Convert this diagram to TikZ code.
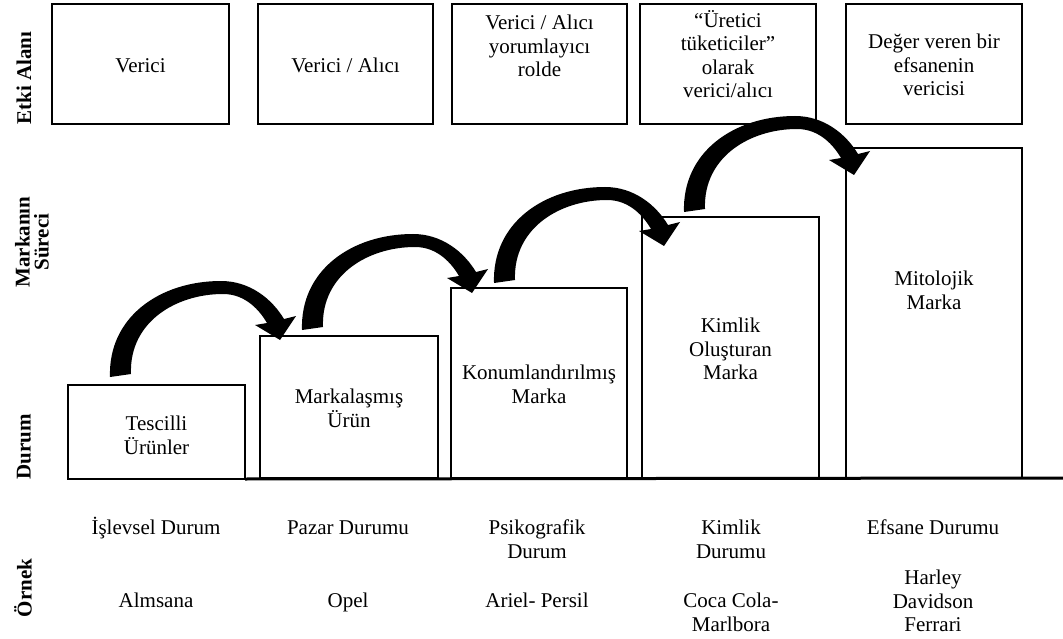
\documentclass[tikz,border=0pt]{standalone}
\usepackage{fontspec}
\setmainfont{Liberation Serif}
\usetikzlibrary{calc}
% fixed line strut so accented capitals do not shift the lines
\newcommand\linestrut{\rule[-6pt]{0pt}{26pt}}
\begin{document}
\begin{tikzpicture}[x=1pt,y=-1pt,
  box/.style={draw,line width=1.6pt,inner sep=0pt,outer sep=0pt},
  txt/.style={align=center,inner sep=0pt,font=\fontsize{21}{23.5}\selectfont,
    execute at begin node=\linestrut,execute at end node=\linestrut},
  side/.style={align=center,inner sep=0pt,rotate=90,font=\fontsize{21}{19}\selectfont\bfseries},
  bigarrow/.pic={
    \fill (0,0) .. controls (-2,-60) and (50,-96) .. (111,-96)
      .. controls (140,-96) and (162,-78) .. (174,-58)
      -- (186,-61) -- (170,-37) -- (145,-52) -- (157,-54)
      .. controls (150,-66) and (136,-83) .. (113,-83)
      .. controls (66,-83) and (19,-55) .. (21,-3) -- cycle;
  }]
\useasboundingbox[fill=white] (0,0) rectangle (1063,639);

% row labels
\node[side] (lEtki) at (24,78) {Etki Alanı};
\node[side] (lSurec) at (32,242) {Markanın\\Süreci};
\node[side] (lDurum) at (24,447) {Durum};
\node[side] (lOrnek) at (23,588) {Örnek};

% upper row: field of influence
\node[box,minimum width=177pt,minimum height=120pt,anchor=north west] (E1) at (52,4) {};
\node[box,minimum width=175pt,minimum height=120pt,anchor=north west] (E2) at (258,4) {};
\node[box,minimum width=175pt,minimum height=120pt,anchor=north west] (E3) at (452,4) {};
\node[box,minimum width=176pt,minimum height=120pt,anchor=north west] (E4) at (640,4) {};
\node[box,minimum width=176pt,minimum height=120pt,anchor=north west] (E5) at (846,4) {};
\node[txt] (tE1) at (140.5,66) {Verici};
\node[txt] (tE2) at (345.5,66) {Verici / Alıcı};
\node[txt] (tE3) at (539.5,49) {Verici / Alıcı\\yorumlayıcı\\rolde};
\node[txt] (tE4) at (728,57) {“Üretici\\tüketiciler”\\olarak\\verici/alıcı};
\node[txt] (tE5) at (934,68) {Değer veren bir\\efsanenin\\vericisi};

% staircase of brand stages
\node[box,minimum width=177pt,minimum height=94pt,anchor=north west] (A) at (68,385) {};
\node[box,minimum width=178pt,minimum height=142pt,anchor=north west] (B) at (260,336) {};
\node[box,minimum width=176pt,minimum height=190pt,anchor=north west] (C) at (451,288) {};
\node[box,minimum width=177pt,minimum height=261pt,anchor=north west] (D) at (642,217) {};
\node[box,minimum width=176pt,minimum height=330pt,anchor=north west] (E) at (846,148) {};
\coordinate (baseEnd) at (1063,478);
\draw[line width=3pt] (A.south east) -- (baseEnd);

\node[txt] (tA) at (156.5,438) {Tescilli\\Ürünler};
\node[txt] (tB) at (349,411) {Markalaşmış\\Ürün};
\node[txt] (tC) at (539,387) {Konumlandırılmış\\Marka};
\node[txt] (tD) at (730.5,352) {Kimlik\\Oluşturan\\Marka};
\node[txt] (tE) at (934,293) {Mitolojik\\Marka};

% curved arrows between the stages
\pic at ($(A.north west)+(42,-8)$) {bigarrow};
\pic at ($(B.north west)+(42,-6)$) {bigarrow};
\pic at ($(C.north west)+(43,-5)$) {bigarrow};
\pic at ($(D.north west)+(42,-5)$) {bigarrow};

% situation row
\node[txt] (sA) at (156,527) {İşlevsel Durum};
\node[txt] (sB) at (348,527) {Pazar Durumu};
\node[txt] (sC) at (537,542) {Psikografik\\Durum};
\node[txt] (sD) at (731,542) {Kimlik\\Durumu};
\node[txt] (sE) at (933,527) {Efsane Durumu};

% example row
\node[txt] (xA) at (156,600) {Almsana};
\node[txt] (xB) at (348,600) {Opel};
\node[txt] (xC) at (537,600) {Ariel- Persil};
\node[txt] (xD) at (731,615) {Coca Cola-\\Marlbora};
\node[txt] (xE) at (933,604) {Harley\\Davidson\\Ferrari};
\end{tikzpicture}
\end{document}
